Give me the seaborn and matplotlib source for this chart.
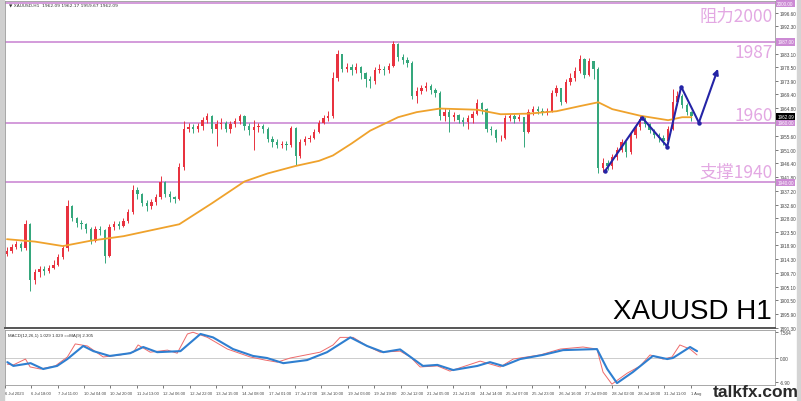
import numpy as np
import pandas as pd
import matplotlib
matplotlib.use("Agg")
import matplotlib.pyplot as plt
import seaborn as sns

# ---------------- data (3-hour candles) ----------------
close = [1917.0, 1918.5, 1919.5, 1918.2, 1926.0, 1907.5, 1910.0, 1911.0, 1910.5, 1911.5,
         1912.5, 1915.0, 1918.0, 1932.0, 1928.0, 1926.5, 1926.0, 1924.5, 1920.5, 1924.5,
         1924.0, 1915.5, 1925.0, 1926.0, 1925.5, 1927.0, 1930.0, 1937.5, 1936.0, 1933.0,
         1932.0, 1933.5, 1935.0, 1940.0, 1936.0, 1935.0, 1934.5, 1945.0, 1958.0, 1958.5,
         1958.0, 1959.0, 1961.0, 1962.3, 1958.0, 1959.5, 1960.0, 1958.0, 1959.5, 1960.5,
         1962.3, 1959.0, 1957.5, 1958.5, 1959.0, 1958.0, 1954.5, 1953.5, 1952.5, 1953.0,
         1952.5, 1958.3, 1948.7, 1953.5, 1954.5, 1955.0, 1957.0, 1960.0, 1961.5, 1962.3,
         1975.0, 1983.0, 1978.0, 1978.5, 1977.5, 1978.5, 1976.5, 1974.5, 1974.0, 1977.5,
         1978.0, 1977.5, 1979.0, 1986.3, 1982.0, 1981.0, 1980.0, 1969.0, 1970.5, 1971.5,
         1972.3, 1971.0, 1970.0, 1962.3, 1963.7, 1962.0, 1962.5, 1961.0, 1960.3, 1961.5,
         1963.0, 1966.5, 1964.7, 1958.0, 1957.5, 1954.7, 1955.0, 1961.5, 1962.3, 1961.3,
         1962.0, 1957.0, 1963.5, 1964.7, 1964.0, 1963.7, 1964.0, 1970.0, 1971.5, 1967.0,
         1973.7, 1975.0, 1977.3, 1981.3, 1976.0, 1980.5, 1978.0, 1944.7, 1946.5, 1945.5,
         1948.5, 1951.0, 1953.5, 1950.0, 1955.7, 1958.5, 1961.3, 1959.5, 1957.5, 1956.0,
         1955.0, 1953.7, 1958.0, 1967.0, 1969.0, 1966.0, 1963.5, 1962.1]
high = [1918.5, 1919.5, 1920.5, 1920.0, 1927.5, 1926.5, 1911.0, 1912.0, 1912.0, 1912.5,
        1914.0, 1916.0, 1919.0, 1934.0, 1932.5, 1928.5, 1927.5, 1926.5, 1925.0, 1925.5,
        1925.5, 1924.5, 1926.0, 1927.0, 1927.0, 1928.0, 1931.0, 1939.0, 1938.5, 1936.5,
        1934.0, 1934.5, 1936.0, 1942.0, 1940.5, 1937.0, 1935.5, 1946.5, 1960.5, 1960.0,
        1959.5, 1960.0, 1962.0, 1963.3, 1962.5, 1961.0, 1961.5, 1960.5, 1960.5, 1961.5,
        1963.0, 1962.5, 1960.0, 1961.0, 1960.0, 1959.5, 1958.5, 1955.5, 1954.5, 1954.0,
        1954.0, 1959.0, 1958.5, 1954.5, 1955.5, 1956.0, 1958.0, 1961.0, 1962.5, 1964.0,
        1977.0, 1984.2, 1983.0, 1980.0, 1979.5, 1980.0, 1979.0, 1977.0, 1975.5, 1978.5,
        1979.5, 1979.0, 1980.0, 1987.2, 1986.5, 1983.0, 1982.0, 1980.5, 1972.0, 1972.5,
        1973.5, 1973.0, 1971.5, 1970.5, 1965.0, 1964.5, 1963.5, 1963.0, 1962.0, 1962.5,
        1964.0, 1968.0, 1967.0, 1965.0, 1959.0, 1958.0, 1956.0, 1962.5, 1963.0, 1963.0,
        1963.0, 1962.0, 1964.5, 1965.5, 1965.5, 1965.0, 1965.0, 1971.0, 1972.5, 1971.5,
        1974.5, 1976.5, 1978.5, 1982.5, 1981.5, 1981.5, 1980.0, 1978.5, 1948.0, 1947.5,
        1949.5, 1952.0, 1954.5, 1954.0, 1956.5, 1959.5, 1962.5, 1962.0, 1960.0, 1958.0,
        1956.5, 1956.0, 1959.0, 1971.3, 1970.5, 1969.5, 1966.5, 1964.0]
low = [1915.5, 1916.5, 1917.8, 1917.0, 1917.5, 1903.7, 1906.0, 1908.5, 1909.0, 1909.8,
       1911.0, 1912.0, 1914.5, 1917.0, 1927.0, 1925.0, 1924.5, 1923.0, 1919.5, 1920.0,
       1922.5, 1913.0, 1915.0, 1924.0, 1924.5, 1925.0, 1926.5, 1929.5, 1934.5, 1932.0,
       1930.5, 1931.0, 1932.5, 1934.5, 1935.0, 1933.5, 1933.0, 1934.0, 1944.0, 1957.0,
       1956.5, 1957.0, 1957.5, 1960.0, 1956.5, 1952.3, 1958.0, 1957.0, 1956.5, 1958.5,
       1959.5, 1957.5, 1956.0, 1950.7, 1957.0, 1956.5, 1953.5, 1952.0, 1951.5, 1951.5,
       1951.0, 1952.0, 1945.7, 1948.0, 1952.5, 1953.5, 1954.5, 1956.5, 1959.5, 1960.5,
       1961.5, 1974.0, 1977.0, 1977.0, 1976.0, 1976.5, 1974.5, 1972.0, 1971.7, 1973.0,
       1976.5, 1976.0, 1976.5, 1978.5, 1980.5, 1979.5, 1978.5, 1968.0, 1966.5, 1969.5,
       1970.5, 1969.5, 1968.5, 1961.0, 1960.5, 1957.0, 1960.5, 1960.0, 1959.0, 1958.0,
       1960.0, 1962.5, 1963.0, 1957.0, 1956.0, 1953.5, 1954.0, 1954.5, 1960.5, 1960.0,
       1960.5, 1952.0, 1956.5, 1962.5, 1963.0, 1962.5, 1962.5, 1963.5, 1969.0, 1966.0,
       1966.5, 1972.5, 1974.0, 1976.5, 1975.0, 1975.5, 1974.5, 1943.0, 1943.5, 1944.0,
       1944.5, 1947.5, 1950.0, 1948.5, 1949.5, 1955.0, 1957.5, 1958.5, 1956.5, 1955.0,
       1953.5, 1952.5, 1953.0, 1957.5, 1966.0, 1965.0, 1962.5, 1960.5]
first_open = 1916.0

# moving average (orange)
ma_idx = [0, 6, 12, 18, 25, 31, 37, 44, 51, 56, 62, 67, 70, 74, 78, 84, 88, 93, 101,
          106, 112, 118, 123, 127, 130, 136, 142, 145, 147]
ma_val = [1921.0, 1920.2, 1918.7, 1920.5, 1922.0, 1924.0, 1926.0, 1933.0, 1940.3, 1943.0,
          1945.5, 1947.2, 1949.0, 1953.0, 1957.3, 1961.8, 1963.5, 1964.7, 1964.3, 1962.8,
          1963.0, 1963.8, 1965.5, 1966.8, 1964.5, 1962.3, 1960.8, 1961.8, 1961.8]

# MACD panel
macd_idx = [0, 1.3, 5, 7.7, 10.7, 12.9, 16.3, 18.5, 22, 26.4, 29.2, 32.2, 37.2, 41.5, 44.2,
            48.5, 52.8, 55.8, 59.3, 64.4, 68.7, 73.7, 77.3, 80.8, 84.4, 89.3, 92.4, 95.8,
            101, 103.7, 106.5, 110.2, 115.1, 119.4, 126.7, 128.9, 131, 134.4, 138.7,
            141.8, 143, 146.7, 148.2]
macd_val = [-1.2, -2.3, -1.5, -3.2, -2.3, -0.3, 3.5, 2.0, 0.6, 1.4, 3.2, 1.7, 2.0, 7.0, 6.0,
            2.6, 0.6, 0.0, -1.5, -0.6, 1.7, 6.0, 3.5, 1.7, 2.5, -2.3, -2.0, -3.5,
            -2.3, -1.2, -2.3, -0.3, 0.9, 2.3, 2.6, -3.2, -7.3, -4.1, 0.6,
            -0.3, 0.0, 3.2, 2.0]
sig_idx = [0, 1.3, 3.9, 4.9, 7.1, 10.3, 12.9, 14.6, 17.2, 20.6, 24.3, 27.1, 28.1, 30.7, 34.4,
           36.5, 38.7, 39.9, 43.0, 47.3, 52.2, 55.4, 58.0, 60.8, 67.2, 70.0, 71.5, 74.3,
           77.3, 80.1, 84.4, 86.6, 88.7, 92.4, 95.1, 101.6, 105.9, 108.7, 114.5, 118.8,
           123.7, 126.7, 128.0, 129.9, 133.2, 136.0, 138.1, 140.9, 142.8, 144.5, 146.7, 148.2]
sig_val = [-1.8, -2.0, -0.3, -2.6, -3.2, -2.3, 0.3, 4.1, 3.5, 0.3, 0.9, 1.7, 3.8, 1.7, 2.3,
           1.4, 7.0, 7.5, 6.0, 2.6, 0.3, -0.6, -1.2, 0.0, 1.7, 3.8, 6.0, 6.0,
           3.5, 1.7, 2.0, 0.3, -2.6, -2.3, -3.8, -0.9, -2.6, -0.3, 0.9, 2.6,
           3.2, 2.6, -4.1, -7.6, -4.4, -2.3, 0.9, -0.3, 0.3, 3.8, 2.6, 0.9]

levels = [2000, 1987, 1960, 1940]
level_text = ["阻力2000", "1987", "1960", "支撑1940"]

# forecast path (blue arrows)
path_idx = [128.4, 136.4, 141.8, 144.8, 148.6, 152.7]
path_val = [1943.7, 1961.7, 1952.0, 1972.0, 1960.0, 1978.0]

price_ticks = [1891.30, 1895.90, 1900.50, 1905.10, 1909.70, 1914.30, 1918.90, 1923.50,
               1928.00, 1932.60, 1937.20, 1941.80, 1946.40, 1951.00, 1955.60,
               1964.80, 1969.40, 1973.90, 1978.50, 1983.10, 1992.30, 1996.60]
macd_ticks = [-6.9, 0.0, 7.564]
macd_tick_labels = ["-6.90", "0.00", "7.564"]
date_labels = ["6 Jul 2023", "6 Jul 18:00", "7 Jul 11:00", "10 Jul 04:00", "10 Jul 20:00",
               "11 Jul 13:00", "12 Jul 06:00", "12 Jul 22:00", "13 Jul 15:00", "14 Jul 08:00",
               "17 Jul 01:00", "17 Jul 17:00", "18 Jul 10:00", "19 Jul 03:00", "19 Jul 19:00",
               "20 Jul 12:00", "21 Jul 05:00", "21 Jul 21:00", "24 Jul 14:00", "25 Jul 07:00",
               "25 Jul 23:00", "26 Jul 16:00", "27 Jul 09:00", "28 Jul 02:00", "28 Jul 18:00",
               "31 Jul 11:00", "1 Aug"]
last_price = 1962.09

# ---------------- style ----------------
sns.set_theme(style="white")
plt.rcParams["font.family"] = ["Liberation Sans", "DejaVu Sans"]
RED = "#e8323f"
GREEN = "#35a77c"
PINK = "#cc8ad4"
PINK_TXT = "#e3a8e3"
BLUE = "#2424a6"
SMALL = 3.3

W, H = 801, 402
fig = plt.figure(figsize=(W / 100, H / 100), dpi=100)
fig.patch.set_facecolor("white")


def box(x0, y0, x1, y1):
    return [x0 / W, 1 - y1 / H, (x1 - x0) / W, (y1 - y0) / H]


ax = fig.add_axes(box(5, 2, 775, 329))
ax2 = fig.add_axes(box(5, 331, 775, 386))
XL = (-0.43, 164.95)

# ---------------- candles ----------------
df = pd.DataFrame({"close": close, "high": high, "low": low})
df["open"] = [first_open] + close[:-1]
df["i"] = np.arange(len(df))
up = df["close"] >= df["open"]
cols = np.where(up, RED, GREEN)
body = (df["close"] - df["open"])
body = body.where(body.abs() > 0.25, 0.25)
ax.vlines(df["i"], df["low"], df["high"], colors=cols, linewidth=0.7, zorder=3)
ax.bar(df["i"], body, bottom=df["open"], width=0.5, color=cols, linewidth=0, zorder=4)

sns.lineplot(x=ma_idx, y=ma_val, ax=ax, color="#efa22c", linewidth=1.3, zorder=5)

for lv in levels:
    ax.axhline(lv, color=PINK, linewidth=1.2, zorder=2)

txt_y = [2000 - 4.4, 1987 - 3.4, 1960 + 2.6, 1940 + 3.4]
for t, yv in zip(level_text, txt_y):
    ax.annotate(t, xy=(1, yv), xycoords=("axes fraction", "data"), xytext=(-1.5, 0),
                textcoords="offset points", ha="right", va="center", fontsize=12.5,
                color=PINK_TXT, family=["Noto Sans CJK SC", "DejaVu Sans"], zorder=6)

ax.plot(path_idx[:5], path_val[:5], color=BLUE, linewidth=1.5, zorder=7,
        marker="o", markersize=2.2)
ax.annotate("", xy=(path_idx[5], path_val[5]), xytext=(path_idx[4], path_val[4]),
            arrowprops=dict(arrowstyle="-|>", color=BLUE, lw=1.5, mutation_scale=8,
                            shrinkA=0, shrinkB=0), zorder=7)

ax.text(0.996, 0.012, "XAUUSD H1", transform=ax.transAxes, ha="right", va="bottom",
        fontsize=20, color="black", family=["Liberation Sans", "DejaVu Sans"], zorder=8)

ax.set_xlim(*XL)
ax.set_ylim(1891.67, 2000.67)
ax.set_xticks([])
ax.yaxis.tick_right()
ax.set_yticks(price_ticks)
ax.set_yticklabels([f"{v:.2f}" for v in price_ticks])
ax.tick_params(axis="y", labelsize=SMALL, length=2, width=0.5, pad=1.5, colors="#444",
               right=True)
for s in ax.spines.values():
    s.set_color("#999999")
    s.set_linewidth(0.6)
ax.spines["bottom"].set_color("#555555")
ax.spines["bottom"].set_linewidth(1.4)
ax.set_ylabel("")

# price-axis tags
for lv in levels:
    ax.text(1.003, lv, f"{lv:.2f}", transform=ax.get_yaxis_transform(), ha="left",
            va="center", fontsize=SMALL, color="white", zorder=9, clip_on=False,
            bbox=dict(boxstyle="square,pad=0.25", fc=PINK, ec="none"))
ax.text(1.003, last_price, f"{last_price:.2f}", transform=ax.get_yaxis_transform(),
        ha="left", va="center", fontsize=SMALL, color="white", zorder=10, clip_on=False,
        bbox=dict(boxstyle="square,pad=0.25", fc="black", ec="none"))

# ---------------- MACD ----------------
ax2.axhline(0, color="#c4c4c4", linewidth=0.6)
sns.lineplot(x=sig_idx, y=sig_val, ax=ax2, color="#ee6a6a", linewidth=0.7)
sns.lineplot(x=macd_idx, y=macd_val, ax=ax2, color="#2f7fd0", linewidth=1.5)
ax2.set_xlim(*XL)
ax2.set_ylim(-7.85, 8.15)
ax2.yaxis.tick_right()
ax2.set_yticks(macd_ticks)
ax2.set_yticklabels(macd_tick_labels)
ax2.tick_params(axis="y", labelsize=SMALL, length=2, width=0.5, pad=1.5, colors="#444",
                right=True)
tick_pos = [17 * k / 3 - 0.5 for k in range(len(date_labels))]
ax2.set_xticks(tick_pos)
ax2.set_xticklabels(date_labels, ha="left")
ax2.tick_params(axis="x", labelsize=3.0, length=2.5, width=0.5, pad=1.5, colors="#444",
                bottom=True)
for s in ax2.spines.values():
    s.set_color("#999999")
    s.set_linewidth(0.6)
ax2.set_ylabel("")

fig.text(8 / W, 1 - 336 / H, "MACD(12,26,1) 1.029 1.029 ==MA(9) 2.305", fontsize=3.2,
         color="#333", va="center")
fig.text(9 / W, 1 - 5.5 / H, "\u25bc XAUUSD,H1  1962.09 1962.17 1959.67 1962.09",
         fontsize=3.2, color="#333", va="center", family=["DejaVu Sans"])

# frame bands and watermark
fig.add_artist(plt.Rectangle((0, 0), 4 / W, 1, transform=fig.transFigure,
                             color="#cfcfcf", zorder=0))
fig.add_artist(plt.Rectangle((797 / W, 0), 4 / W, 1, transform=fig.transFigure,
                             color="#d4d4d4", zorder=0))
fig.text(799 / W, 1 - 397.5 / H, "talkfx.com", ha="right", va="baseline", fontsize=12.5,
         fontweight="bold", color="#2a2a2a", family=["Liberation Sans", "DejaVu Sans"])

fig.savefig("out.png", dpi=100)
